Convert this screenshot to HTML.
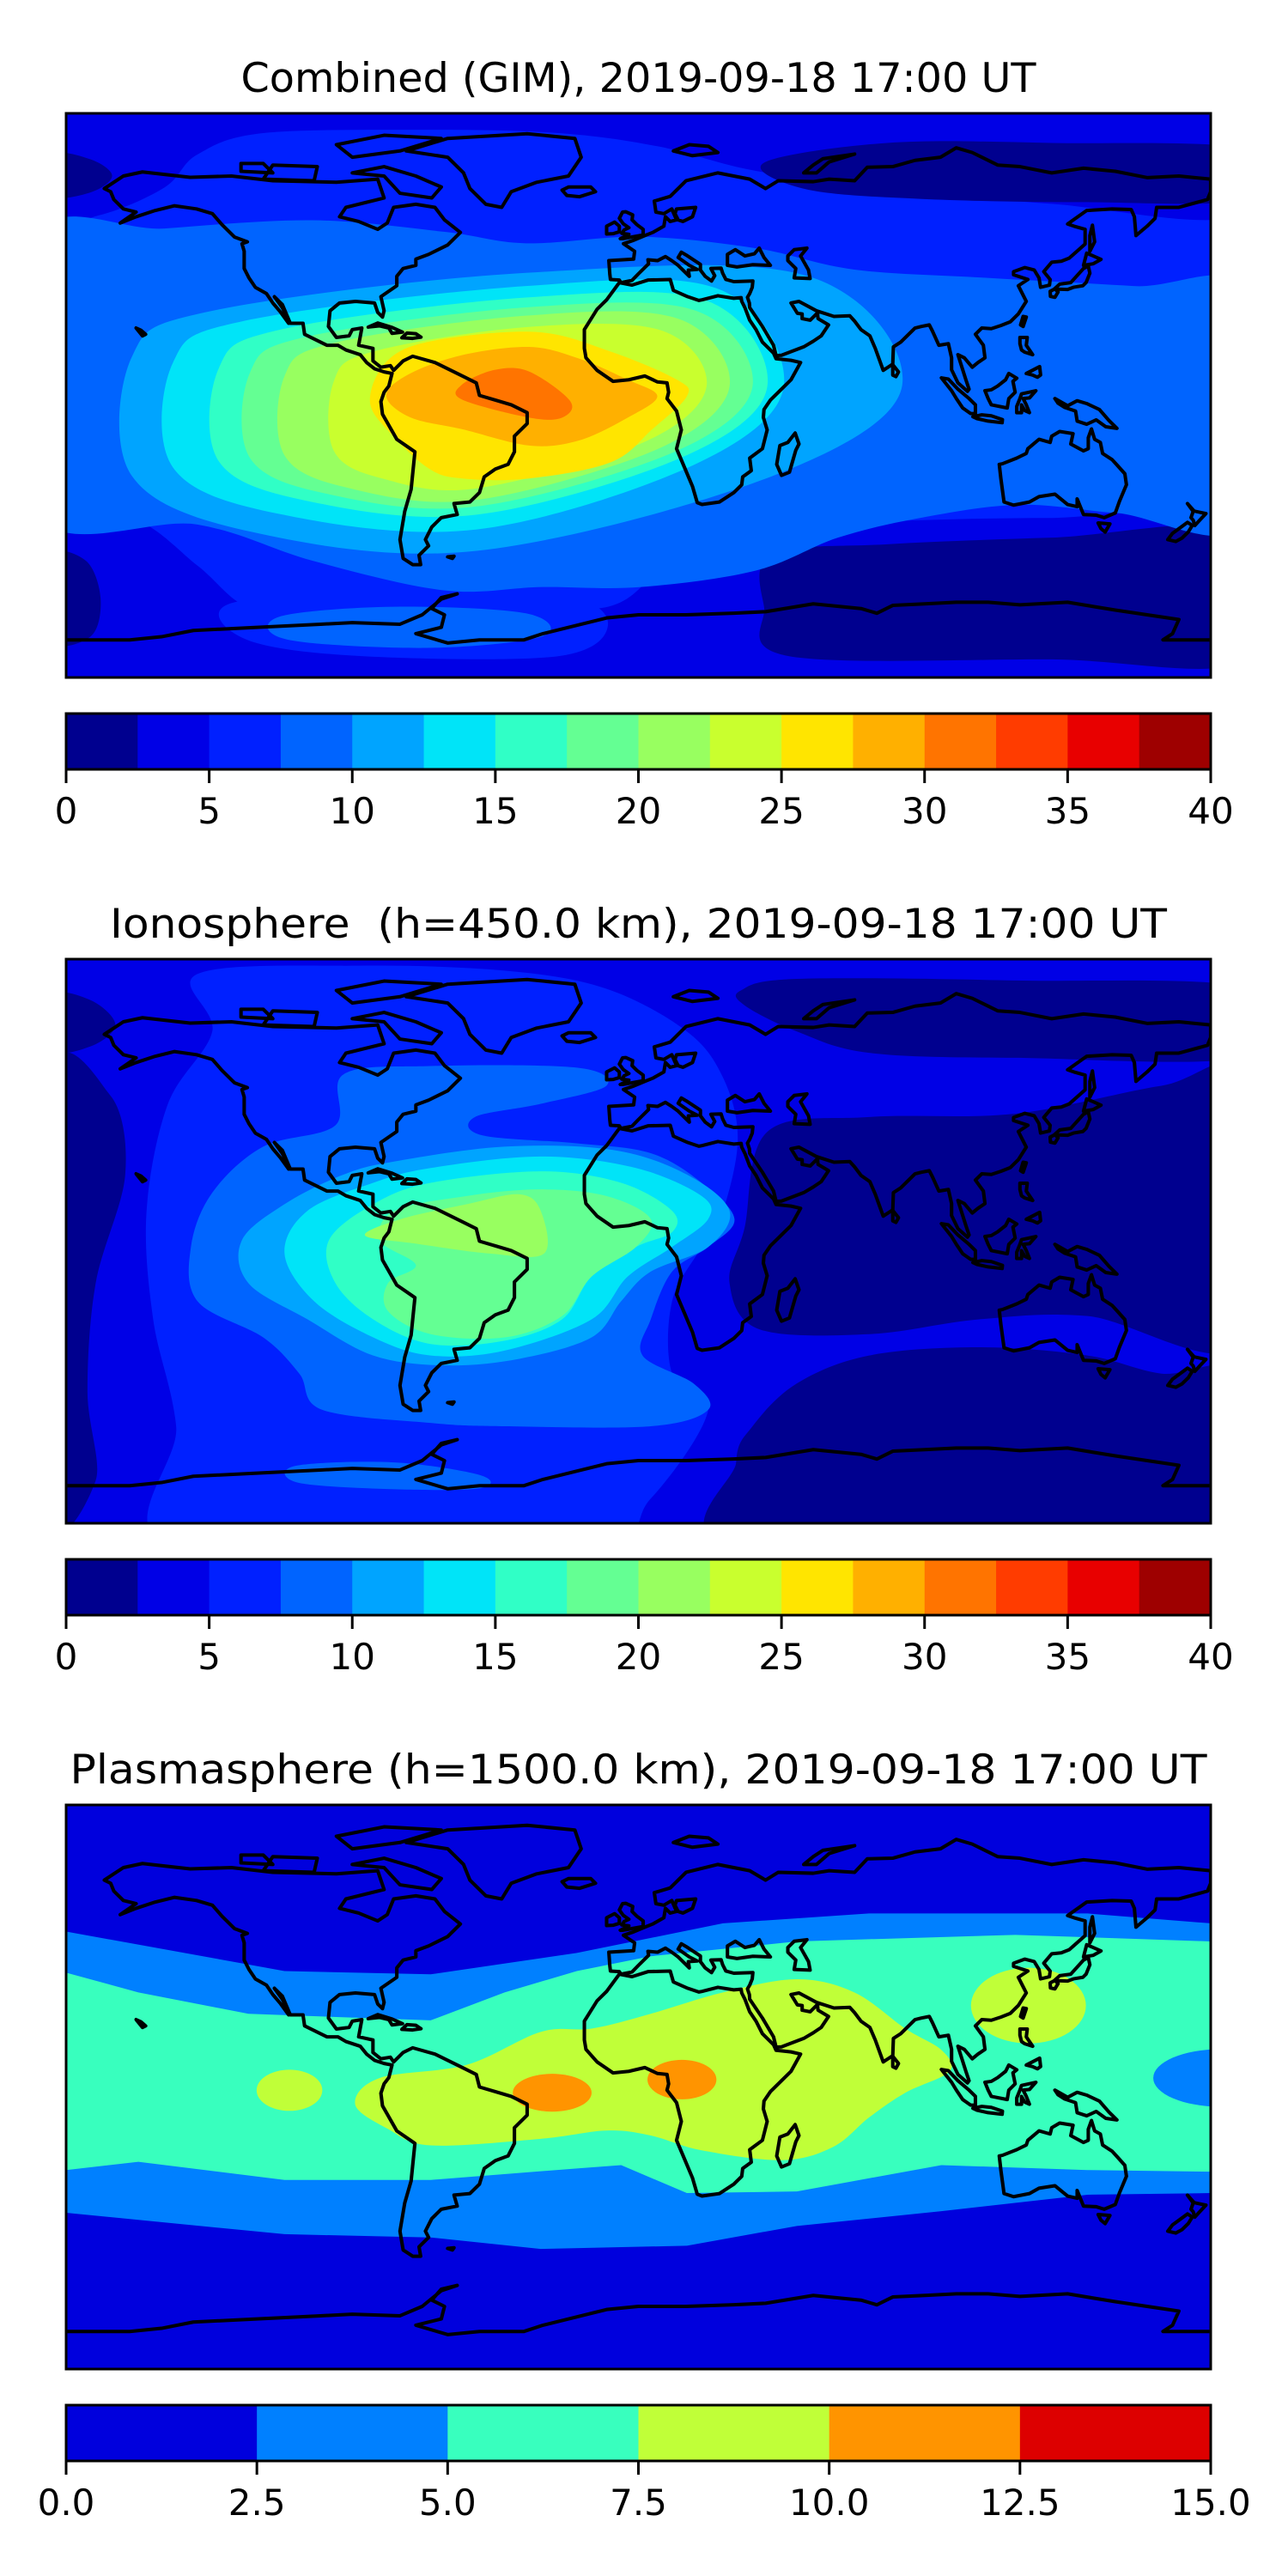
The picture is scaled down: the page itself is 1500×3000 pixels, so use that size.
<!DOCTYPE html>
<html><head><meta charset="utf-8"><style>
html,body{margin:0;padding:0;background:#fff;}
svg{display:block;}
text{font-family:"DejaVu Sans","Liberation Sans",sans-serif;fill:#000;}
</style></head><body>
<svg id="root" xmlns="http://www.w3.org/2000/svg" width="1500" height="3000" viewBox="0 0 1500 3000">
<rect width="1500" height="3000" fill="#fff"/>
<text x="743.5" y="107" font-size="47" text-anchor="middle" textLength="926" lengthAdjust="spacingAndGlyphs">Combined (GIM), 2019-09-18 17:00 UT</text>
<text x="743.5" y="1092" font-size="47" text-anchor="middle" textLength="1231" lengthAdjust="spacingAndGlyphs" xml:space="preserve">Ionosphere  (h=450.0 km), 2019-09-18 17:00 UT</text>
<text x="743.5" y="2077" font-size="47" text-anchor="middle" textLength="1324" lengthAdjust="spacingAndGlyphs">Plasmasphere (h=1500.0 km), 2019-09-18 17:00 UT</text>
</svg>
<script>
(function(){
var NS="http://www.w3.org/2000/svg";
var root=document.getElementById('root');
function el(tag,attrs,parent){var e=document.createElementNS(NS,tag);for(var k in attrs)e.setAttribute(k,attrs[k]);(parent||root).appendChild(e);return e;}
function smooth(p){var n=p.length,d="M"+p[0][0]+","+p[0][1];for(var i=0;i<n;i++){var p0=p[(i-1+n)%n],p1=p[i],p2=p[(i+1)%n],p3=p[(i+2)%n];
var c1=[p1[0]+(p2[0]-p0[0])/6,p1[1]+(p2[1]-p0[1])/6],c2=[p2[0]-(p3[0]-p1[0])/6,p2[1]-(p3[1]-p1[1])/6];
d+="C"+c1[0].toFixed(1)+","+c1[1].toFixed(1)+" "+c2[0].toFixed(1)+","+c2[1].toFixed(1)+" "+p2[0]+","+p2[1];}return d+"Z";}
function poly(p,close){return "M"+p.map(function(q){return q[0]+","+q[1];}).join("L")+(close?"Z":"");}
var J=['#00008f','#0000e6','#0020ff','#0064ff','#00a4ff','#00e4f8','#30ffc6','#64ff93','#98ff60','#c9ff2e','#ffe500','#ffb000','#ff7400','#ff3c00','#e80000','#9e0000'];
var P=['#0000dd','#0080ff','#38ffbe','#c0ff38','#ff9400','#dd0000'];

var coasts=[
[[-168,66],[-162,70],[-156,71.3],[-141,69.6],[-128,70],[-115,68.5],[-95,68],[-82,69],[-80,63],[-92,60],[-94,57],[-88,55.5],[-82,53],[-79,55],[-77,60],[-70,61],[-64,60],[-61,56],[-56,52],[-60,48],[-66,45],[-70,43.5],[-70,41.5],[-74,40.5],[-76,38],[-76,35],[-81,31.5],[-80,27],[-80.5,25],[-82,26.5],[-83,29.5],[-89,30],[-94,29.5],[-97,27],[-97.5,22],[-95,18.5],[-91,19],[-90,21],[-87,21.5],[-88,16],[-83.5,15],[-83.5,11],[-81,9],[-78,9.5],[-77,8],[-74,11],[-71,12.5],[-64,10.5],[-60,8.5],[-55,6],[-51,4],[-50,0],[-45,-1.5],[-40,-3],[-35,-5.5],[-35,-9],[-39,-13],[-39,-18],[-41,-22],[-45,-23.5],[-48.5,-26],[-50,-31],[-53,-34],[-58,-34.5],[-57,-38],[-62,-39],[-65,-42],[-67,-46],[-66,-48],[-69,-51],[-68.5,-54],[-71,-54],[-74,-52],[-75,-46],[-73.5,-37],[-71.5,-30],[-70.3,-18],[-76,-14],[-80.5,-6],[-81,-2],[-80,1],[-78.5,3],[-77.5,7],[-80,7.5],[-83,8.5],[-85.5,10.5],[-87.5,13],[-92,14.5],[-94.5,16],[-98,16],[-105,19.5],[-105.5,23],[-109.5,23],[-112,29],[-114.5,31.5],[-112,28],[-110,24],[-110,23],[-112.5,26.5],[-115,29.5],[-117,32.5],[-120.5,34.5],[-122.5,37.5],[-124,40.5],[-124,46],[-124.7,48.4],[-123,49],[-127,50.5],[-131,54.5],[-134,58],[-139,59.5],[-146,60.5],[-152,59],[-158,57],[-163,55],[-158,58.5],[-162,59.5],[-165,62.5],[-166,65],[-168,66]],
[[-73,78],[-60,82],[-35,83.5],[-20,82],[-18,76],[-22,70],[-32,68],[-40,65],[-43,60],[-48,61],[-53,66],[-55,71],[-60,76],[-73,78]],
[[-80,73],[-70,70],[-62,66.5],[-65,63],[-75,64.5],[-80,70],[-90,71],[-80,73]],
[[-90,76],[-75,78],[-62,82],[-80,83],[-95,80],[-90,76]],
[[-118,69],[-102,68.5],[-101,73],[-115,73.5],[-118,69]],
[[-125,71.5],[-115,71],[-118,74],[-125,74],[-125,71.5]],
[[-6,36],[-10,30.5],[-13,27.5],[-17,21],[-17,15],[-16.5,12],[-13,8],[-8,4.5],[-3,5],[2,6.2],[6,4.3],[9,4],[9.5,1],[9,-1],[12,-5],[13.5,-11],[12,-17],[14.5,-23],[17,-29],[18.5,-34.2],[20,-34.8],[25.5,-34],[30,-31],[32.5,-28.5],[32.8,-26],[35.5,-24],[35,-20],[39,-17],[40.5,-11],[39.3,-7],[39.5,-4.5],[41.5,-1.5],[45,2],[48,5],[51,10.5],[48,11.2],[43.3,11.7],[42.5,13.5],[39,17],[37,21],[35,24],[33.5,28],[32.5,30],[32.3,31.2],[30,31],[25,31.8],[20,30.5],[19,30.3],[15.5,31.5],[11,33.5],[10,37],[3,36.8],[-2,35.2],[-6,36]],
[[-9.3,43],[-9,38.7],[-8.8,37],[-6,36.8],[-5.5,36],[-2,36.7],[0,38.8],[3.2,42],[3,43.3],[6,43],[8.5,44.3],[10.5,43],[12.5,41.5],[16,38],[15.7,40],[18.5,40.2],[16,41.5],[12.5,44],[13.5,45.7],[15,44.8],[19.5,41.8],[19.5,40],[21,38],[23,36.5],[24,38.2],[22.8,40.5],[26,40.6],[26.5,39],[27.5,37],[30,36.3],[36,36.5],[35.8,34.5],[35,32.5],[34.3,31.3],[34.9,29.5],[35,28],[39,22],[42.5,16],[43.3,12.7],[45,12.8],[52,15.5],[55,17.3],[57.5,19],[59.8,22.5],[56.5,24.5],[56.3,26.3],[54,24],[51.5,24.5],[51.5,26],[50,26.2],[48,29.5],[50.5,30],[56,27],[61.5,25.2],[66.5,25.4],[68,23.7],[70,21],[72.8,19],[74.5,15],[77,8],[80,10],[80.2,15.5],[82.5,17],[87,21.5],[89,22],[91.5,22.5],[92.5,20.5],[94.5,16],[97.5,16.5],[98.5,12],[98.5,8.2],[100.5,4],[103.5,1.3],[104,2],[103,5],[100.5,13],[102.5,12],[105,9],[106.8,10.5],[109,12],[108.5,16],[106,19.5],[108,21.5],[111,21.3],[114,22.3],[117,23.5],[119.5,26],[122,30],[121,32],[119.5,35],[122.5,37],[118,38.5],[118,39.5],[121.5,40.8],[124.5,40],[126,37.5],[126.5,34.5],[129.3,35.2],[129.5,37],[127.5,39.5],[130,42.5],[133,42.8],[135.5,43.8],[140.5,48.3],[140.5,53],[137,54],[135,54.7],[141,59],[149,59.5],[155,59.3],[156,57],[156.5,51],[160,54],[162.5,56.5],[163,60],[170,60],[179,62.5],[180,65],[180,69],[170,70],[160,69.5],[150,71.5],[140,72.5],[130,71],[120,73],[113,73.5],[105,77.5],[100,79],[95,76],[87,75],[80,73],[72,72.8],[68,68.5],[60,69],[55,68.2],[44,68.5],[40,66],[35,69],[25,71],[15,68.5],[10,63.5],[5,62],[5.5,58.5],[8,58],[10.5,59.5],[12,56],[10,55.5],[8.5,57],[8,54],[4.5,52],[2,51],[-1.5,49.5],[-4.7,48.4],[-1.2,46],[-1.5,43.5],[-9.3,43]],
[[28,41.5],[28,45],[30.5,46.5],[33.5,44.5],[36.5,45.2],[38,47],[39.5,44],[41.5,41.5],[36,41.7],[31,41],[28,41.5]],
[[47,44.5],[49,46.5],[53,47],[51,44.5],[53.5,40],[54,37.3],[49,37.5],[49.5,40.5],[47,43],[47,44.5]],
[[18,60],[17,57],[14,55.5],[12.5,56],[11.5,58],[12,59.5]],
[[-5,50],[1.5,51.2],[1.5,53],[-0.5,54.5],[-2,56],[-1.8,57.6],[-4,58.6],[-5,58.5],[-6,56.5],[-4.8,54.8],[-3,53.5],[-4.5,52.8],[-5.2,51.7],[-3,51.4],[-5.7,50],[-5,50]],
[[-6,52.2],[-6,54],[-7.5,55.3],[-10,54],[-10,51.5],[-8,51.6],[-6,52.2]],
[[-24,65.5],[-22,66.5],[-15,66.5],[-13.5,65],[-18.5,63.4],[-22.5,63.8],[-24,65.5]],
[[130.9,34],[132.5,35.5],[136,36],[140,40.5],[141.5,41.3],[142,39],[140.8,36],[139.8,35],[136.8,34.5],[135,33.8],[132,33.9],[130.9,34]],
[[129.5,33.2],[131,34],[132,33],[131,31.3],[129.6,31.6],[129.5,33.2]],
[[140,41.5],[141,45.4],[145.5,43.4],[143,42],[140,41.5]],
[[142,46],[143.5,49],[142.8,54.3],[142,51],[142,46]],
[[120.2,22.5],[121,25.2],[122,25],[121,22],[120.2,22.5]],
[[120,18.5],[122.3,18.5],[122,16],[124,13],[121.5,13.8],[120.5,14.5],[120,16.5],[120,18.5]],
[[122,7],[126.2,9.2],[126.5,6.5],[125.5,5.8],[124,6.5],[122,7]],
[[109,1.5],[110,-1],[111,-3],[116,-4],[116.5,-1],[118.5,1],[117.8,4.5],[119,5.5],[116.5,7],[115.5,5],[113,3],[111,1.8],[109,1.5]],
[[95.3,5.6],[97.5,5.2],[100.5,2],[104,-1],[106,-3],[106,-5.8],[104.5,-5.8],[102,-4],[100,-1],[98.5,1.5],[95.3,5.6]],
[[105.2,-6.8],[108,-6.2],[111,-6.5],[114.5,-7.7],[114.4,-8.7],[110,-8.2],[106.5,-7.4],[105.2,-6.8]],
[[119,-5.5],[120.5,-5.5],[120.5,-3],[121.5,-4.8],[123,-5.5],[122,-3],[121,-1],[123,-0.8],[125,1.5],[120.5,0.5],[120,-1],[119,-3.5],[119,-5.5]],
[[131,-1],[135,-3.3],[138,-1.7],[141,-2.6],[145,-4.5],[148,-8],[150.5,-10.5],[147,-10],[144,-7.8],[141,-9.2],[138,-8.2],[137.5,-5],[134,-3.8],[132,-2.5],[131,-1]],
[[113.5,-22],[114,-26.5],[115,-34],[118,-35],[123,-34],[126,-32.3],[131,-31.5],[135,-34.8],[138,-35.5],[138,-33],[140,-38],[144,-38.2],[146.5,-39],[150,-37.5],[151.3,-33.8],[153.5,-28.5],[153,-25],[150.8,-22.5],[149,-20.5],[146,-18.5],[145.3,-15],[143.5,-14],[142.5,-10.7],[141.5,-13.5],[141.5,-17],[140,-17.7],[136,-15.5],[136.7,-12.2],[132.5,-11.5],[130,-13],[129.5,-15],[126,-14],[122.5,-17],[122,-18.5],[119,-20],[114.5,-21.8],[113.5,-22]],
[[144.6,-40.7],[148.3,-41],[146.8,-43.6],[145.5,-42.5],[144.6,-40.7]],
[[172.7,-34.5],[174.8,-36.9],[178.5,-37.7],[177,-39.3],[175,-41.5],[174.5,-39.8],[173.8,-39],[174.5,-37],[172.7,-34.5]],
[[172.7,-40.5],[174.2,-41.5],[173,-43.5],[171,-45.5],[169,-46.6],[166.5,-46],[168,-44],[172.7,-40.5]],
[[49.3,-12],[50.5,-15.5],[49.5,-17.5],[47.5,-24.5],[45,-25.5],[43.5,-22],[44.5,-16],[47,-15],[49.3,-12]],
[[80,9.8],[81.8,7.5],[81,6],[80,6.5],[80,9.8]],
[[-85,21.8],[-82,23.1],[-77.5,21.7],[-74.2,20.2],[-77.5,19.8],[-78.5,21.5],[-81.5,22.2],[-85,21.8]],
[[-74.4,18.4],[-72.8,19.9],[-70,19.7],[-68.4,18.6],[-71,18.2],[-74.4,18.4]],
[[-156,19],[-155,19.5],[-155.8,20.2],[-156.5,20.8],[-158,21.5],[-156,19]],
[[11,78],[16,80],[22,79.5],[25,77.5],[17,76.5],[11,78]],
[[52,71],[55,73.5],[58,75.5],[68,77],[60,74.5],[56,71],[52,71]],
[[-60,-51.5],[-58,-51.3],[-58.5,-52],[-60,-51.5]]
];
var antarctica=[[-180,-78],[-160,-78],[-150,-77],[-140,-75],[-120,-74],[-100,-73],[-90,-72.5],[-75,-73],[-68,-70],[-62,-65],[-57,-63.3],[-62,-64.5],[-65,-68],[-61,-70],[-62,-74],[-70,-76],[-60,-79],[-50,-78],[-36,-78],[-30,-76],[-20,-73.5],[-10,-71],[0,-70],[15,-70],[30,-69.5],[40,-69],[55,-66.5],[70,-68],[75,-69.5],[80,-67],[90,-66.5],[100,-66],[110,-66],[120,-66.8],[135,-66],[150,-68.5],[160,-70],[170,-71.5],[168,-76],[165,-78],[180,-78]];

function drawMap(top,layers){
  var s=el('svg',{x:77,y:top,width:1333,height:657,viewBox:"0 0 697 343",preserveAspectRatio:"none",overflow:"hidden"});
  layers.forEach(function(L){
    if(L.rect){el('rect',{x:0,y:0,width:697,height:343,fill:L.c},s);return;}
    if(L.e){el('ellipse',{cx:L.e[0],cy:L.e[1],rx:L.e[2],ry:L.e[3],fill:L.c},s);return;}
    el('path',{d:L.poly?poly(L.p,true):smooth(L.p),fill:L.c},s);
  });
  var g=el('g',{transform:"translate(348.5,171.5) scale(1.936,-1.9056)"},s);
  coasts.forEach(function(c){el('path',{d:poly(c,true),fill:"none",stroke:"#000","stroke-width":1.1,"stroke-linejoin":"round"},g);});
  el('path',{d:poly(antarctica,false),fill:"none",stroke:"#000","stroke-width":1.1,"stroke-linejoin":"round"},g);
  el('rect',{x:77,y:top,width:1333,height:657,fill:"none",stroke:"#000","stroke-width":3});
}
function colorbar(top,cols,labels){
  var w=1333/cols.length;
  cols.forEach(function(c,i){el('rect',{x:77+i*w,y:top,width:w+0.6,height:65,fill:c});});
  el('rect',{x:77,y:top,width:1333,height:65,fill:"none",stroke:"#000","stroke-width":3});
  var n=labels.length-1;
  labels.forEach(function(t,i){var x=77+i*1333/n;
    el('line',{x1:x,y1:top+65,x2:x,y2:top+81,stroke:"#000","stroke-width":3});
    var tx=el('text',{x:x,y:top+128,"font-size":42,"text-anchor":"middle"});tx.textContent=t;});
}
function ring(L,T,R,B,c){return {c:c,p:[
 [280,T],[R-(R-280)*0.25,T+2],[R,166],[R-(R-280)*0.35,B-(B-166)*0.45],[250,B],
 [L+(250-L)*0.35,B-(B-190)*0.15],[L,190+(B-190)*0.4],[L,190-(190-T)*0.45],[L+(280-L)*0.2,T+(190-T)*0.25]]};}

// Map 1
drawMap(132,[
 {rect:1,c:J[2]},
 {c:J[1],poly:0,p:[[-20,-20],[720,-20],[720,60],[600,55],[500,45],[420,35],[360,20],[300,12],[220,10],[120,12],[80,25],[60,45],[20,62],[-20,65]]},
 {c:J[0],p:[[425,30],[500,18],[600,18],[720,22],[720,52],[620,54],[520,52],[450,46]]},
 {c:J[0],p:[[-10,25],[15,28],[28,38],[15,48],[-10,50]]},
 {c:J[1],p:[[-20,240],[40,246],[80,275],[110,300],[150,305],[250,298],[330,300],[370,270],[420,252],[500,248],[600,246],[720,248],[720,360],[-20,360]]},
 {c:J[2],p:[[100,298],[200,290],[300,292],[330,310],[300,330],[180,330],[110,320]]},
 {c:J[0],p:[[430,268],[500,262],[600,258],[720,255],[720,332],[600,332],[440,330],[425,300]]},
 {c:J[0],p:[[-10,270],[12,272],[21,295],[15,318],[-10,320]]},
 {c:J[3],p:[[-20,77],[60,70],[150,65],[230,72],[280,79],[350,75],[420,82],[480,95],[560,100],[650,105],[720,110],[720,248],[640,243],[580,238],[520,246],[470,258],[420,278],[350,288],[290,288],[230,290],[150,272],[80,250],[-20,242]]},
 {c:J[3],p:[[130,306],[200,300],[280,304],[290,318],[220,325],[135,320]]},
 ring(40,97,509,266,J[4]),
 ring(65,105,437,253,J[5]),
 ring(93,112,427,244,J[6]),
 ring(112,118,418,239,J[7]),
 ring(133,123,404,235,J[8]),
 ring(163,130,390,228,J[9]),
 {c:J[10],p:[[185,175],[196,150],[225,138],[287,133],[332,145],[372,162],[378,172],[357,192],[332,212],[282,222],[241,222],[221,216],[198,195]]},
 {c:J[11],p:[[195,172],[208,159],[241,147],[282,142],[312,149],[342,162],[360,172],[342,185],[312,199],[282,202],[241,192],[210,185]]},
 {c:J[12],p:[[241,165],[261,156],[282,157],[307,175],[302,185],[282,185],[241,174]]}
]);
colorbar(831,J,["0","5","10","15","20","25","30","35","40"]);

// Map 2
drawMap(1117,[
 {rect:1,c:J[1]},
 {c:J[0],p:[[411,19],[445,12],[578,13],[720,18],[720,59],[578,60],[489,57],[445,44],[413,28]]},
 {c:J[0],p:[[427,105],[489,96],[578,94],[667,77],[720,73],[720,232],[622,217],[556,219],[489,228],[422,225],[404,197],[413,164]]},
 {c:J[0],p:[[418,284],[445,258],[489,241],[556,236],[622,241],[667,252],[720,254],[720,360],[413,360],[408,306]]},
 {c:J[0],p:[[-10,75],[27,83],[36,131],[18,197],[13,263],[18,317],[-10,330]]},
 {c:J[0],p:[[-10,22],[15,25],[30,40],[15,53],[-10,55]]},
 {c:J[2],p:[[80,9],[178,4],[267,7],[329,18],[378,44],[400,72],[409,109],[400,153],[387,175],[369,208],[369,252],[391,274],[356,328],[311,360],[67,360],[67,284],[53,219],[49,153],[62,88],[89,44]]},
 {c:J[3],p:[[169,70],[222,65],[311,66],[329,77],[289,88],[249,96],[253,107],[311,112],[356,118],[387,136],[407,158],[391,175],[369,190],[356,219],[351,241],[382,258],[391,274],[356,284],[267,284],[222,282],[156,274],[142,252],[120,230],[80,208],[76,175],[89,142],[120,114],[164,101]]},
 {c:J[3],p:[[140,308],[200,306],[253,314],[250,322],[190,322],[140,318]]},
 {c:J[4],p:[[200,123],[267,114],[333,116],[378,131],[404,153],[391,175],[356,190],[338,208],[320,230],[276,243],[231,247],[187,241],[147,219],[111,197],[107,171],[133,149],[169,131]]},
 {c:J[5],p:[[222,127],[289,120],[347,127],[387,144],[391,158],[369,175],[342,193],[320,219],[267,238],[222,241],[187,230],[151,208],[133,179],[147,153],[187,136]]},
 {c:J[6],p:[[222,136],[289,129],[338,136],[369,153],[369,166],[347,175],[320,193],[302,219],[267,232],[222,234],[187,219],[164,197],[160,171],[187,149]]},
 {c:J[7],p:[[200,153],[244,144],[289,140],[329,144],[356,158],[347,175],[320,193],[302,217],[267,230],[222,228],[196,214],[196,197],[213,186],[191,171]]},
 {c:J[8],p:[[204,158],[244,149],[276,143],[289,153],[291,179],[258,179],[213,173],[182,168]]}
]);
colorbar(1816,J,["0","5","10","15","20","25","30","35","40"]);

// Map 3
var lbTop=[[0,77],[133,101],[222,103],[311,90],[400,72],[489,66],[622,66],[697,72]];
var tTop=[[0,102],[44,114],[111,127],[222,131],[267,114],[311,101],[356,92],[445,83],[578,79],[697,83]];
var tBot=[[0,222],[44,217],[133,228],[222,228],[311,221],[338,219],[378,236],[445,235],[533,219],[622,222],[697,223]];
var lbBot=[[0,248],[133,261],[222,263],[289,270],[378,268],[445,256],[533,247],[622,237],[697,236]];
function region(topL,botL){return [[-5,topL[0][1]]].concat(topL).concat([[702,topL[topL.length-1][1]],[702,botL[botL.length-1][1]]]).concat(botL.slice().reverse()).concat([[-5,botL[0][1]]]);}
drawMap(2102,[
 {rect:1,c:P[0]},
 {c:P[1],poly:1,p:region(lbTop,lbBot)},
 {c:P[2],poly:1,p:region(tTop,tBot)},
 {c:P[3],p:[[176,182],[191,166],[244,158],[289,138],[320,136],[356,127],[400,114],[445,106],[480,114],[511,136],[533,149],[538,162],[511,175],[489,190],[467,208],[436,216],[387,210],[356,201],[329,198],[289,203],[222,207],[196,197]]},
 {c:P[3],e:[136,173.5,20,12.5]},
 {c:P[3],e:[586,122,35,23]},
 {c:P[4],e:[296,175,24,11.5]},
 {c:P[4],e:[375,167,21,12]},
 {c:P[1],e:[703,166,41,17.5]}
]);
colorbar(2801,P,["0.0","2.5","5.0","7.5","10.0","12.5","15.0"]);
})();
</script>
</body></html>
